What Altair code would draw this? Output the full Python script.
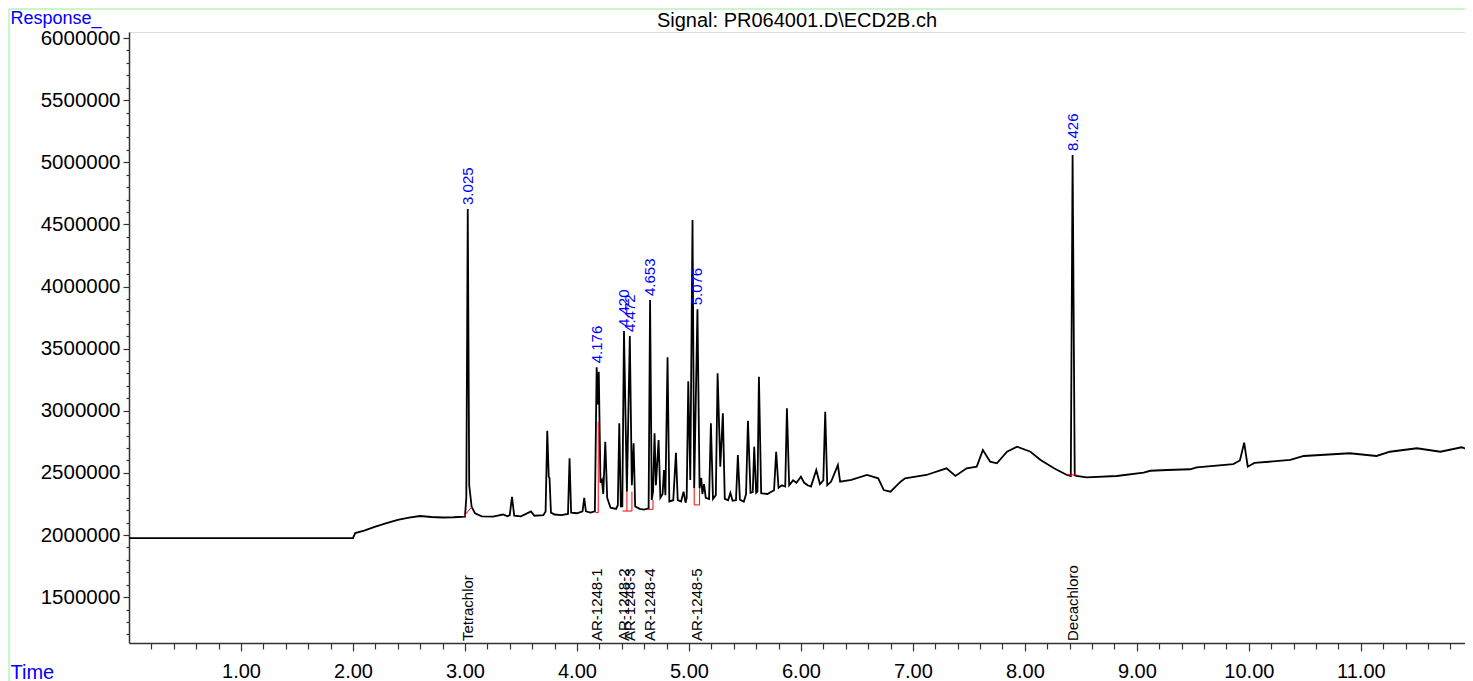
import altair as alt
import pandas as pd

# ---- chromatogram trace (time in min, detector response) ----
trace_time = [
    0.00, 2.00, 2.02, 2.10, 2.20, 2.30, 2.40, 2.50, 2.60, 2.70, 2.80, 2.90, 3.00,
    3.012, 3.025, 3.038, 3.06, 3.09, 3.15, 3.25, 3.34, 3.38, 3.40, 3.42, 3.44, 3.50,
    3.59, 3.62, 3.70, 3.72, 3.735, 3.748, 3.755, 3.768, 3.80, 3.86, 3.92, 3.934, 3.948,
    4.00, 4.05, 4.065, 4.08, 4.12, 4.16, 4.176, 4.186, 4.195, 4.21, 4.223, 4.235, 4.253,
    4.27, 4.30, 4.35, 4.365, 4.378, 4.392, 4.405, 4.420, 4.446, 4.472, 4.49, 4.506, 4.52,
    4.56, 4.60, 4.64, 4.653, 4.668, 4.68, 4.693, 4.705, 4.729, 4.745, 4.765, 4.777, 4.79,
    4.809, 4.825, 4.86, 4.884, 4.90, 4.93, 4.952, 4.97, 4.98, 4.994, 5.012, 5.032, 5.047,
    5.076, 5.095, 5.11, 5.12, 5.135, 5.15, 5.18, 5.196, 5.215, 5.24, 5.256, 5.28, 5.303,
    5.32, 5.35, 5.37, 5.39, 5.42, 5.437, 5.455, 5.49, 5.51, 5.527, 5.55, 5.57, 5.583,
    5.60, 5.612, 5.625, 5.645, 5.70, 5.76, 5.779, 5.80, 5.83, 5.86, 5.875, 5.895, 5.93,
    5.96, 6.00, 6.03, 6.06, 6.09, 6.137, 6.17, 6.20, 6.217, 6.235, 6.27, 6.33, 6.35,
    6.45, 6.59, 6.69, 6.74, 6.80, 6.89, 6.93, 7.12, 7.30, 7.38, 7.48, 7.57, 7.625, 7.69,
    7.75, 7.84, 7.93, 8.05, 8.14, 8.26, 8.375, 8.41, 8.426, 8.445, 8.46, 8.55, 8.82,
    9.06, 9.12, 9.27, 9.475, 9.535, 9.86, 9.92, 9.958, 9.99, 10.05, 10.37, 10.49, 10.90,
    11.14, 11.26, 11.50, 11.71, 11.90, 12.00,
]
trace_resp = [
    1975000, 1975000, 2016000, 2035000, 2067000, 2095000, 2121000, 2140000, 2153000, 2145000, 2141000, 2143000, 2148000,
    2300000, 4624000, 2400000, 2225000, 2175000, 2150000, 2148000, 2165000, 2150000, 2160000, 2306000, 2155000, 2150000,
    2190000, 2155000, 2160000, 2190000, 2839000, 2470000, 2459000, 2180000, 2165000, 2160000, 2170000, 2617000, 2180000,
    2175000, 2190000, 2298000, 2190000, 2180000, 2190000, 3350000, 3050000, 3314000, 2420000, 2443000, 2330000, 2751000,
    2300000, 2220000, 2210000, 2240000, 2899000, 2230000, 2230000, 3642000, 2349000, 3602000, 2400000, 2738000, 2230000,
    2210000, 2205000, 2215000, 3891000, 2282000, 2350000, 2818000, 2400000, 2765000, 2300000, 2330000, 2523000, 2320000,
    3430000, 2270000, 2280000, 2662000, 2280000, 2270000, 2349000, 2260000, 2300000, 3237000, 2443000, 4535000, 2376000,
    3816000, 2376000, 2459000, 2330000, 2410000, 2300000, 2290000, 2899000, 2290000, 2320000, 3301000, 2550000, 2979000,
    2290000, 2280000, 2338000, 2275000, 2280000, 2644000, 2285000, 2268000, 2330000, 2920000, 2340000, 2345000, 2711000,
    2340000, 2350000, 3274000, 2336000, 2330000, 2360000, 2670000, 2380000, 2400000, 2390000, 3020000, 2400000, 2440000,
    2420000, 2469000, 2420000, 2400000, 2390000, 2523000, 2410000, 2440000, 2992000, 2400000, 2430000, 2563000, 2429000,
    2443000, 2483000, 2456000, 2362000, 2349000, 2429000, 2456000, 2483000, 2537000, 2475000, 2537000, 2550000, 2684000, 2590000,
    2577000, 2670000, 2711000, 2670000, 2604000, 2537000, 2483000, 2475000, 5058000, 2480000, 2475000, 2464000, 2475000,
    2502000, 2517000, 2523000, 2529000, 2545000, 2571000, 2600000, 2743000, 2550000, 2580000, 2604000, 2636000, 2658000,
    2636000, 2670000, 2698000, 2670000, 2706000, 2678000,
]

# ---- identified peaks ----
peak_times = [3.025, 4.176, 4.420, 4.472, 4.653, 5.076, 8.426]
peak_apex = [4624000, 3350000, 3642000, 3602000, 3891000, 3816000, 5058000]
peak_names = ["Tetrachlor", "AR-1248-1", "AR-1248-2", "AR-1248-3", "AR-1248-4", "AR-1248-5", "Decachloro"]

# ---- integration baselines (red) ----
red_seg = ["a", "a", "b", "b", "b", "c", "c", "c", "d", "d", "e", "e", "e", "f", "f", "f", "f", "g", "g"]
red_time = [2.985, 3.06, 4.165, 4.19, 4.19, 4.407, 4.491, 4.491, 4.446, 4.446,
            4.63, 4.679, 4.679, 5.047, 5.047, 5.095, 5.095, 8.375, 8.465]
red_resp = [2145000, 2225000, 2180000, 2180000, 2912000, 2193000, 2193000, 2349000, 2193000, 2349000,
            2207000, 2207000, 2282000, 2376000, 2242000, 2242000, 2376000, 2483000, 2483000]

# ---- axis ticks ----
x_ticks = [round(0.2 * i, 1) for i in range(1, 60)]
y_major = [1500000 + 500000 * i for i in range(10)]
y_minor = [v for v in (1200000 + 100000 * i for i in range(49)) if v % 500000 != 0]

Y_MIN, Y_MAX = 1130800, 6048300
X_MAX = 11.93
W, H = 1336, 611
FONT = "Liberation Sans"
AX = "#333333"

trace = pd.DataFrame({"t": trace_time, "r": trace_resp})
peaks = pd.DataFrame({"t": peak_times, "r": peak_apex,
                      "label": [f"{t:.3f}" for t in peak_times], "name": peak_names})
red = pd.DataFrame({"seg": red_seg, "t": red_time, "r": red_resp, "o": list(range(len(red_time)))})

x_axis = alt.Axis(
    values=x_ticks,
    labelExpr="datum.value % 1 === 0 ? format(datum.value, '.2f') : ''",
    title="Time", titleX=-119, titleY=35, titleAlign="left", titleBaseline="alphabetic",
    titleColor="#0000FF", titleFontSize=20, titleFontWeight="normal", titleFont=FONT,
    labelFontSize=20, labelFont=FONT, labelColor="black", labelPadding=10,
    labelOverlap=False, labelFlush=False, labelBound=False,
    tickSize={"condition": {"test": "datum.value % 1 === 0", "value": 8}, "value": 6},
    domainColor=AX, tickColor=AX, domainWidth=1.5, tickWidth=1.2, grid=False,
)
y_axis = alt.Axis(
    values=y_major, format="d", orient="left",
    title="Response_", titleX=-119, titleY=-9, titleAngle=0, titleAlign="left",
    titleBaseline="alphabetic", titleColor="#0000FF", titleFontSize=18,
    titleFontWeight="normal", titleFont=FONT,
    labelFontSize=20.5, labelFont=FONT, labelColor="black", labelPadding=3,
    labelOverlap=False, labelFlush=False, labelBound=False,
    tickSize=6, domainColor=AX, tickColor=AX, domainWidth=1.5, tickWidth=1.2, grid=False,
)
y_minor_axis = alt.Axis(
    values=y_minor, orient="left", labels=False, title=None, domain=False,
    tickSize=3, tickColor=AX, tickWidth=1.2, grid=False,
)

x_scale = alt.Scale(domain=[0, X_MAX], nice=False, zero=False)
y_scale = alt.Scale(domain=[Y_MIN, Y_MAX], nice=False, zero=False)
x_enc = alt.X("t:Q", scale=x_scale, axis=x_axis)
y_enc = alt.Y("r:Q", scale=y_scale, axis=y_axis)
y_noax = alt.Y("r:Q", scale=y_scale, axis=None)

one = alt.Data(values=[{"k": 1}])
frame_top = alt.Chart(one).mark_rule(color="#90EE90", strokeWidth=1).encode(
    x=alt.value(-120), x2=alt.value(W), y=alt.value(-23))
frame_left = alt.Chart(one).mark_rule(color="#90EE90", strokeWidth=1).encode(
    x=alt.value(-120), y=alt.value(-23), y2=alt.value(H + 40))

line = alt.Chart(trace).mark_line(color="black", strokeWidth=1.8, clip=True).encode(x=x_enc, y=y_enc)

minor_ticks = alt.Chart(trace).mark_line(opacity=0).encode(
    x=x_enc, y=alt.Y("r:Q", scale=y_scale, axis=y_minor_axis))

red_lines = alt.Chart(red).mark_line(color="red", strokeWidth=1).encode(
    x=x_enc, y=y_noax, detail="seg:N", order="o:Q")

peak_labels = alt.Chart(peaks).mark_text(
    angle=270, align="left", baseline="middle", dx=4, color="#0000FF", fontSize=15, font=FONT
).encode(x=x_enc, y=y_noax, text="label:N")

name_labels = alt.Chart(peaks).mark_text(
    angle=270, align="left", baseline="middle", dx=2, color="black", fontSize=15, font=FONT
).encode(x=x_enc, y=alt.datum(Y_MIN, scale=y_scale, axis=None), text="name:N")

chart = alt.layer(
    frame_top, frame_left, minor_ticks, line, red_lines, peak_labels, name_labels
).resolve_axis(y="independent").properties(
    width=W, height=H,
    title=alt.TitleParams("Signal: PR064001.D\\ECD2B.ch", fontSize=20, font=FONT, fontWeight="normal",
                          anchor="middle", frame="group", offset=0, dy=38, baseline="alphabetic",
                          color="black"),
    autosize=alt.AutoSizeParams(type="none"),
    padding={"left": 121, "top": 24, "right": 0, "bottom": 38},
).configure_view(stroke="transparent").configure(font=FONT)

chart.save("out.html", embed_options={"renderer": "svg", "actions": False})
